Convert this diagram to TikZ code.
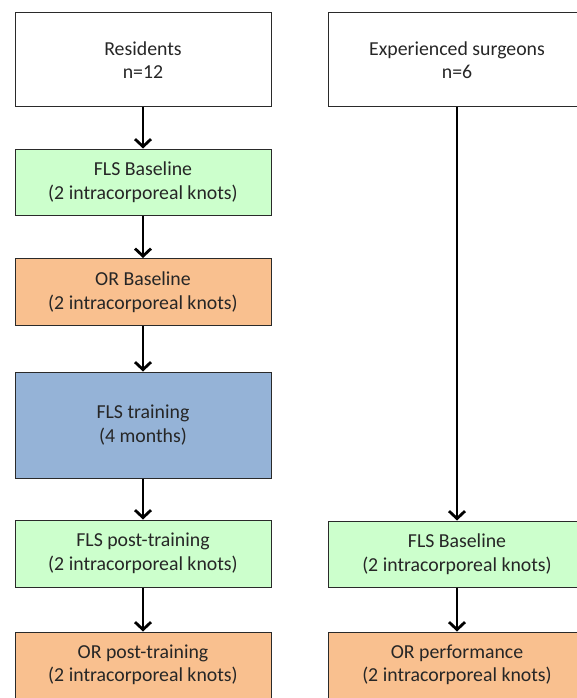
\documentclass[tikz,border=0pt]{standalone}
\usepackage{fontspec}
\setmainfont{Carlito}
\usetikzlibrary{arrows.meta}
\definecolor{flsgreen}{HTML}{CCFFCC}
\definecolor{ororange}{HTML}{F9C08F}
\definecolor{trainblue}{HTML}{95B3D7}
\definecolor{edge}{HTML}{2A2A2A}
\begin{document}
\begin{tikzpicture}[x=1pt,y=-1pt,
  box/.style={draw=edge,line width=1pt,align=center,inner sep=0pt,
    font=\fontsize{19.8}{23.5}\selectfont,text=black!85},
  lbox/.style={box,minimum width=256pt},
  rbox/.style={box,minimum width=258pt},
  flow/.style={line width=2.8pt,-{Straight Barb[length=7.5pt,width=16pt,line width=2.8pt]}}]
\useasboundingbox (0,0) rectangle (577,698);
\clip (0,0) rectangle (577,698);
\node[lbox,minimum height=94pt] (res) at (143,60) {Residents\\n=12};
\node[lbox,fill=flsgreen,minimum height=66pt] (flsb) at (143,182) {FLS Baseline\\(2 intracorporeal knots)};
\node[lbox,fill=ororange,minimum height=67pt] (orb) at (143,292) {OR Baseline\\(2 intracorporeal knots)};
\node[lbox,fill=trainblue,minimum height=106pt] (train) at (143,425) {FLS training\\(4 months)};
\node[lbox,fill=flsgreen,minimum height=67pt] (flsp) at (143,553.5) {FLS post-training\\(2 intracorporeal knots)};
\node[lbox,fill=ororange,minimum height=66pt] (orp) at (143,665) {OR post-training\\(2 intracorporeal knots)};
\node[rbox,minimum height=94pt] (exp) at (457,60) {Experienced surgeons\\n=6};
\node[rbox,fill=flsgreen,minimum height=66pt] (flsr) at (457,554) {FLS Baseline\\(2 intracorporeal knots)};
\node[rbox,fill=ororange,minimum height=66pt] (orr) at (457,665) {OR performance\\(2 intracorporeal knots)};
\draw[flow] (res) -- (flsb);
\draw[flow] (flsb) -- (orb);
\draw[flow] (orb) -- (train);
\draw[flow] (train) -- (flsp);
\draw[flow] (flsp) -- (orp);
\draw[flow] (exp) -- (flsr);
\draw[flow] (flsr) -- (orr);
\end{tikzpicture}
\end{document}
